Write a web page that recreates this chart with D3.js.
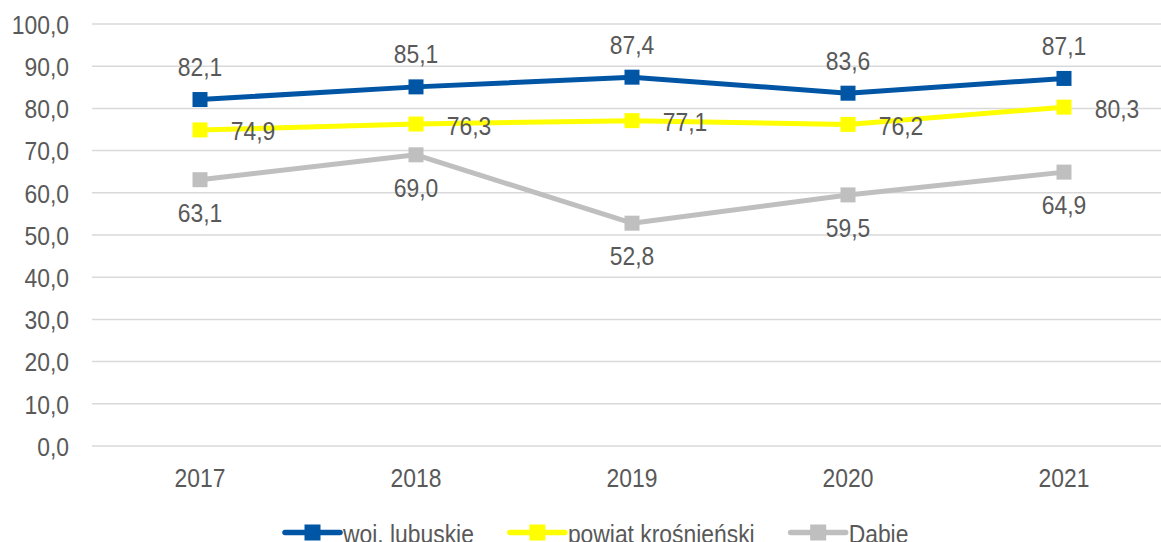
<!DOCTYPE html>
<html>
<head>
<meta charset="utf-8">
<script src="https://cdn.jsdelivr.net/npm/d3@7"></script>
<style>
  html, body { margin: 0; padding: 0; background: #fff; }
  svg { display: block; font-family: "Liberation Sans", Arial, sans-serif; }
</style>
</head>
<body>
<svg id="chart" width="1161" height="542"></svg>
<script>
const years = ["2017", "2018", "2019", "2020", "2021"];
const lubuskie = [82.1, 85.1, 87.4, 83.6, 87.1];
const krosnienski = [74.9, 76.3, 77.1, 76.2, 80.3];
const dabie = [63.1, 69.0, 52.8, 59.5, 64.9];
const yTicks = [0, 10, 20, 30, 40, 50, 60, 70, 80, 90, 100];

const series = [
  { name: "woj. lubuskie", values: lubuskie, color: "#0055A5", labelPos: "above" },
  { name: "powiat krośnieński", values: krosnienski, color: "#FFFF00", labelPos: "right" },
  { name: "Dąbie", values: dabie, color: "#BFBFBF", labelPos: "below" }
];

const svg = d3.select("#chart");
const fmt = v => v.toFixed(1).replace(".", ",");
const textColor = "#595959";
const fontSize = 26;
const squeeze = "scale(0.88,1)";   // slightly condensed lettering

const x = d3.scaleBand().domain(years).range([92, 1172]);
const y = d3.scaleLinear().domain([0, 100]).range([446, 24]);
const cx = d => x(d) + x.bandwidth() / 2;

// horizontal gridlines
svg.append("g").selectAll("line").data(yTicks).join("line")
  .attr("x1", 92).attr("x2", 1161)
  .attr("y1", d => y(d)).attr("y2", d => y(d))
  .attr("stroke", "#D9D9D9").attr("stroke-width", 1.5);

// y axis labels
const yAxis = d3.axisLeft(y).tickValues(yTicks).tickFormat(fmt).tickSize(0).tickPadding(0);
const gy = svg.append("g").attr("transform", "translate(69,0)").call(yAxis);
gy.select(".domain").remove();
gy.selectAll("text").attr("fill", textColor).attr("font-size", fontSize)
  .attr("dy", null).attr("y", 9.3).attr("transform", squeeze);

// x axis labels
const xAxis = d3.axisBottom(x).tickSize(0).tickPadding(0);
const gx = svg.append("g").attr("transform", "translate(0,487)").call(xAxis);
gx.select(".domain").remove();
gx.selectAll("text").attr("fill", textColor).attr("font-size", fontSize)
  .attr("dy", null).attr("y", 0).attr("transform", squeeze);

const line = d3.line().x((d, i) => cx(years[i])).y(d => y(d));

const labelOffset = {
  above: { dx: 0, dy: -23.5 },
  right: { dx: 53, dy: 10.5 },
  below: { dx: 0, dy: 42 }
};

series.forEach(s => {
  const g = svg.append("g");
  g.append("path").attr("d", line(s.values))
    .attr("fill", "none").attr("stroke", s.color).attr("stroke-width", 5)
    .attr("stroke-linejoin", "round");
  g.selectAll("rect").data(s.values).join("rect")
    .attr("x", (d, i) => cx(years[i]) - 7.5).attr("y", d => y(d) - 7.5)
    .attr("width", 15).attr("height", 15).attr("fill", s.color);
  const off = labelOffset[s.labelPos];
  g.selectAll("g.lbl").data(s.values).join("g").attr("class", "lbl")
    .attr("transform", (d, i) => `translate(${cx(years[i]) + off.dx},${y(d) + off.dy})`)
    .append("text")
    .attr("text-anchor", "middle")
    .attr("transform", squeeze)
    .attr("font-size", fontSize).attr("fill", textColor)
    .text(fmt);
});

// legend
const lg = svg.append("g").attr("transform", "translate(0,532.5)");
let lx = 285;
series.forEach(s => {
  lg.append("line").attr("x1", lx).attr("x2", lx + 55).attr("y1", 0).attr("y2", 0)
    .attr("stroke", s.color).attr("stroke-width", 5.5).attr("stroke-linecap", "round");
  lg.append("rect").attr("x", lx + 19.5).attr("y", -8).attr("width", 16).attr("height", 16)
    .attr("fill", s.color);
  const t = lg.append("g").attr("transform", `translate(${lx + 58},10)`)
    .append("text").attr("transform", squeeze)
    .attr("font-size", fontSize).attr("fill", textColor).text(s.name);
  const w = t.node().getComputedTextLength() * 0.88;
  lx += 58 + w + 36;
});
</script>
</body>
</html>
